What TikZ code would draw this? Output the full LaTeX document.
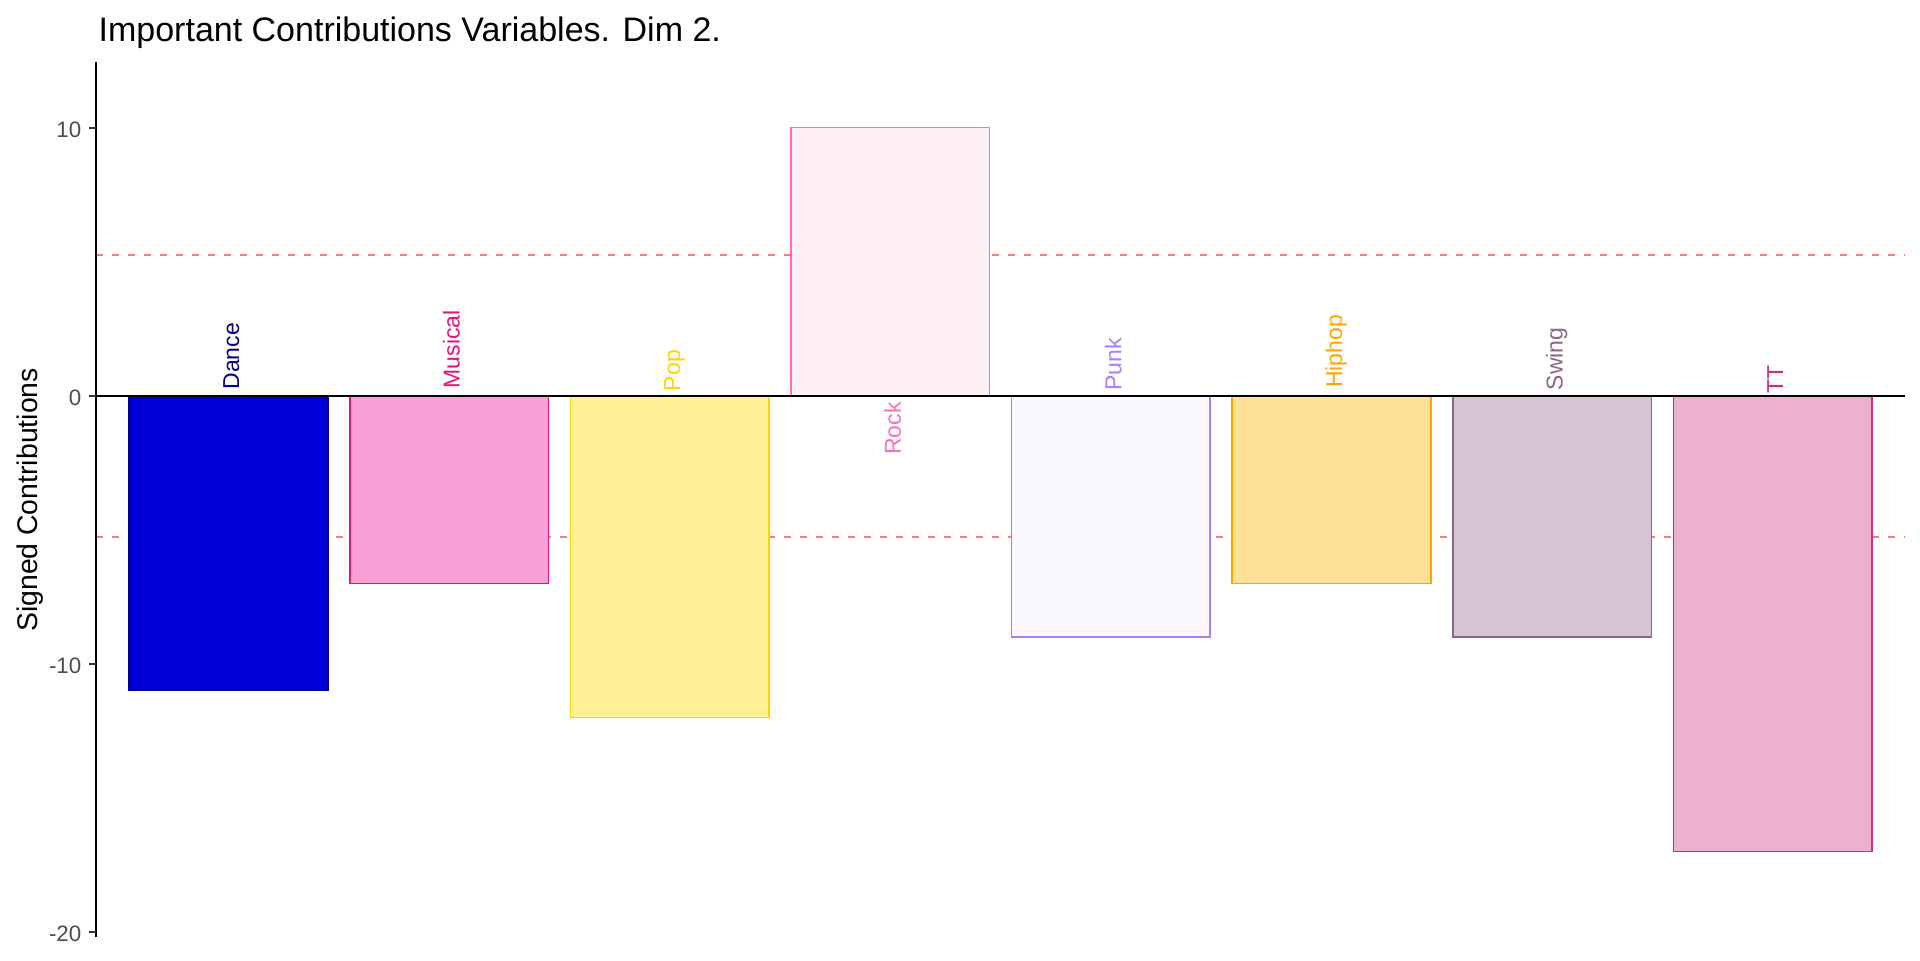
\documentclass[tikz,border=0pt]{standalone}
\usepackage{fontspec}
\setmainfont{Liberation Sans}
\usepackage{tikz}

\definecolor{danceFill}{HTML}{0000D6}
\definecolor{danceLine}{HTML}{00008B}
\definecolor{musicalFill}{HTML}{F8A0D5}
\definecolor{musicalLine}{HTML}{E8127F}
\definecolor{popFill}{HTML}{FFF195}
\definecolor{popLine}{HTML}{FFD400}
\definecolor{rockFill}{HTML}{FFF0F6}
\definecolor{rockLine}{HTML}{FF6EB4}
\definecolor{punkFill}{HTML}{FBF9FF}
\definecolor{punkLine}{HTML}{A77EFF}
\definecolor{hiphopFill}{HTML}{FEE097}
\definecolor{hiphopLine}{HTML}{FFA500}
\definecolor{swingFill}{HTML}{D7C3D6}
\definecolor{swingLine}{HTML}{8B668B}
\definecolor{ttFill}{HTML}{EEB0CF}
\definecolor{ttLine}{HTML}{CF2C7C}
\definecolor{cutRed}{HTML}{FF7B7B}
\definecolor{axisGray}{HTML}{4D4D4D}

\begin{document}
\begin{tikzpicture}[x=110.3pt, y=13.4pt,
  bar/.style={line width=0.75pt},
  lbl/.style={rotate=90, inner sep=0pt, font=\fontsize{11.5}{13}\selectfont, text height=8.3pt, text depth=0pt},
  ticklbl/.style={anchor=east, inner sep=0pt, yshift=-1pt, text=axisGray, font=\fontsize{11.15}{13}\selectfont},
  tickmark/.style={draw=black!80, line width=0.85pt},
  cutoff/.style={draw=cutRed, line width=1pt, dash pattern=on 3.5pt off 4.5pt}]
\useasboundingbox[fill=white] (-0.0358,-21.056) rectangle (8.6677,14.765);

% title and axis title
\node[anchor=base west, inner sep=0pt, font=\fontsize{17}{20}\selectfont] (title) at (0.4096,13.21) {Important Contributions Variables. Dim 2.};
\node[rotate=90, anchor=base, inner sep=0pt, font=\fontsize{14.2}{17}\selectfont] (ytitle) at (0.1331,-3.89) {Signed Contributions};

% cut-off lines
\draw[cutoff] (0.4,5.26) -- (8.6,5.26);
\draw[cutoff] (0.4,-5.26) -- (8.6,-5.26);

% bars
\draw[bar, draw=danceLine, fill=danceFill] (0.55,0) rectangle (1.45,-11);
\draw[bar, draw=musicalLine, fill=musicalFill] (1.55,0) rectangle (2.45,-7);
\draw[bar, draw=popLine, fill=popFill] (2.55,0) rectangle (3.45,-12);
\draw[bar, draw=rockLine, fill=rockFill] (3.55,0) rectangle (4.45,10);
\draw[bar, draw=punkLine, fill=punkFill] (4.55,0) rectangle (5.45,-9);
\draw[bar, draw=hiphopLine, fill=hiphopFill] (5.55,0) rectangle (6.45,-7);
\draw[bar, draw=swingLine, fill=swingFill] (6.55,0) rectangle (7.45,-9);
\draw[bar, draw=ttLine, fill=ttFill] (7.55,0) rectangle (8.45,-17);

% zero line and y axis
\draw[line width=0.85pt] (0.4,0) -- (8.6,0);
\draw[line width=0.85pt] (0.4,-20.21) -- (0.4,12.44);

% ticks
\draw[tickmark] (0.3665,10) -- (0.4,10);
\draw[tickmark] (0.3665,0) -- (0.4,0);
\draw[tickmark] (0.3665,-10) -- (0.4,-10);
\draw[tickmark] (0.3665,-20) -- (0.4,-20);
\node[ticklbl] (t10) at (0.3344,10) {10};
\node[ticklbl] (t0) at (0.3344,0) {0};
\node[ticklbl] (tm10) at (0.3344,-10) {-10};
\node[ticklbl] (tm20) at (0.3344,-20) {-20};

% bar labels
\node[lbl, anchor=west, text=danceLine] (lDance) at (1.01,0.22) {Dance};
\node[lbl, anchor=west, text=musicalLine] (lMusical) at (2.01,0.26) {Musical};
\node[lbl, anchor=west, text=popLine] (lPop) at (3.01,0.16) {Pop};
\node[lbl, anchor=east, text=rockLine] (lRock) at (4.01,-0.23) {Rock};
\node[lbl, anchor=west, text=punkLine] (lPunk) at (5.01,0.18) {Punk};
\node[lbl, anchor=west, text=hiphopLine] (lHiphop) at (6.01,0.28) {Hiphop};
\node[lbl, anchor=west, text=swingLine] (lSwing) at (7.01,0.19) {Swing};
\node[lbl, anchor=west, text=ttLine] (lTT) at (8.01,0.08) {TT};
\end{tikzpicture}
\end{document}
